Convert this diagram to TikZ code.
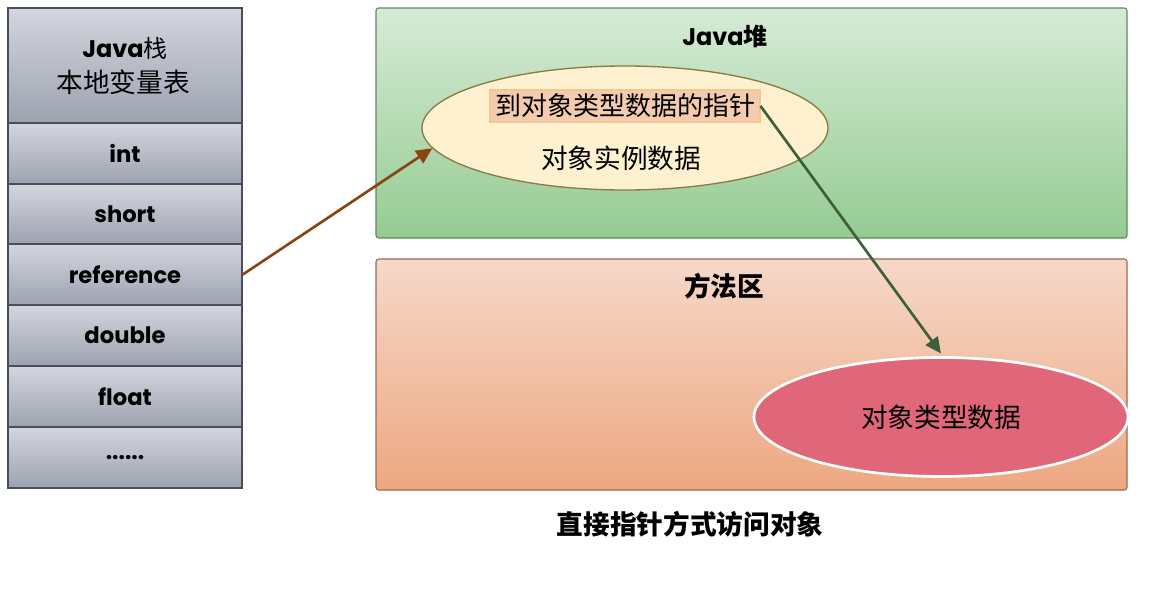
\documentclass[tikz,border=0pt]{standalone}
\usepackage{fontspec}
\setmainfont{Poppins}
\newfontfamily\cjk{Noto Sans CJK SC}
\usetikzlibrary{shapes.geometric,arrows.meta}
\definecolor{cellTop}{HTML}{D3D6DE}
\definecolor{cellBot}{HTML}{9DA2B0}
\definecolor{cellLine}{HTML}{4A4E58}
\definecolor{greenTop}{HTML}{D6EBD6}
\definecolor{greenBot}{HTML}{95CB92}
\definecolor{greenLine}{HTML}{5E8A5C}
\definecolor{orTop}{HTML}{F6D8C8}
\definecolor{orBot}{HTML}{EDA781}
\definecolor{orLine}{HTML}{9A6A55}
\definecolor{cream}{HTML}{FDF1D0}
\definecolor{creamLine}{HTML}{8C7A45}
\definecolor{ptrFill}{HTML}{F5CBB0}
\definecolor{ptrLine}{HTML}{F0C890}
\definecolor{pink}{HTML}{E06779}
\definecolor{brownArrow}{HTML}{8B4513}
\definecolor{greenArrow}{HTML}{3F5E3A}
\tikzset{
  x=0.75pt,y=-0.75pt,
  cell/.style={draw=cellLine,line width=1.2pt,top color=cellTop,bottom color=cellBot,
    minimum width=234*0.75pt,inner sep=0pt,font=\fontsize{17}{20}\selectfont\bfseries},
  area/.style={rounded corners=2pt,line width=0.8pt},
  arr/.style={line width=2pt,-{Triangle[length=12pt,width=11pt]}},
  cjkt/.style={font=\cjk\fontsize{20}{24}\selectfont},
}
\begin{document}
\begin{tikzpicture}
\useasboundingbox (0,0) rectangle (1149,590);
% stack
\node[cell,minimum height=115*0.75pt] (hdr) at (125,65.5) {};
\node[font=\fontsize{18}{21}\selectfont\bfseries] (hdr1) at (125,48) {Java{\cjk\mdseries 栈}};
\node[font=\cjk\fontsize{20}{24}\selectfont] (hdr2) at (123,82) {本地变量表};
\node[cell,minimum height=61*0.75pt] (int) at (125,153.5) {int};
\node[cell,minimum height=60*0.75pt] (short) at (125,214) {short};
\node[cell,minimum height=61*0.75pt] (ref) at (125,274.5) {reference};
\node[cell,minimum height=61*0.75pt] (dbl) at (125,335.5) {double};
\node[cell,minimum height=61*0.75pt] (flt) at (125,396.5) {float};
\node[cell,minimum height=61*0.75pt] (dots) at (125,457.5) {......};
% areas
\draw[area,draw=greenLine,top color=greenTop,bottom color=greenBot] (376,8) rectangle (1127,238);
\node[font=\fontsize{18}{21}\selectfont\bfseries] (heap) at (725,36) {Java{\cjk 堆}};
\draw[area,draw=orLine,top color=orTop,bottom color=orBot] (376,259) rectangle (1127,490);
\node[font=\cjk\bfseries\fontsize{20}{24}\selectfont] (method) at (724,286) {方法区};
% object ellipse
\node[ellipse,draw=creamLine,line width=1pt,fill=cream,minimum width=406*0.75pt,minimum height=124*0.75pt,inner sep=0pt] (obj) at (625,128) {};
\node[draw=ptrLine,fill=ptrFill,line width=0.8pt,minimum width=270*0.75pt,minimum height=32*0.75pt,inner sep=0pt,font=\cjk\fontsize{19.5}{23}\selectfont] (ptr) at (625,106) {到对象类型数据的指针};
\node[cjkt] (inst) at (621,158) {对象实例数据};
% type ellipse
\node[ellipse,draw=white,line width=2pt,fill=pink,minimum width=374*0.75pt,minimum height=119*0.75pt,inner sep=0pt,cjkt] (typ) at (941,417) {对象类型数据};
% arrows
\draw[arr,draw=brownArrow,fill=brownArrow] (ref.east) -- (obj.186);
\draw[arr,draw=greenArrow,fill=greenArrow] (ptr.east) -- ([yshift=2pt]typ.north);
% caption
\node[font=\cjk\bfseries\fontsize{20}{24}\selectfont] (cap) at (690,524) {直接指针方式访问对象};
\end{tikzpicture}
\end{document}
